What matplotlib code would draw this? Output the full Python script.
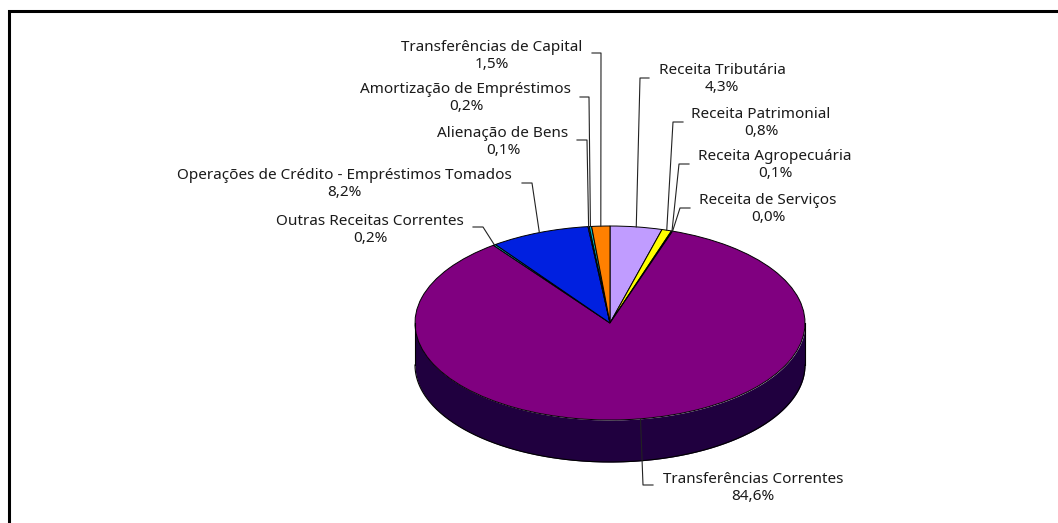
import numpy as np
import matplotlib
matplotlib.use("Agg")
import matplotlib.pyplot as plt

plt.rcParams['font.family'] = ['Noto Sans', 'DejaVu Sans']

# Revenue categories, clockwise from 12 o'clock
categories = ["Receita Tributária", "Receita Patrimonial", "Receita Agropecuária",
              "Receita de Serviços", "Transferências Correntes", "Outras Receitas Correntes",
              "Operações de Crédito - Empréstimos Tomados", "Alienação de Bens",
              "Amortização de Empréstimos", "Transferências de Capital"]
shares = [4.3, 0.8, 0.1, 0.0, 84.6, 0.2, 8.2, 0.1, 0.2, 1.5]
slice_colors = ["#C09CFF", "#FFFF00", "#00CCFF", "#FFFFFF", "#800080",
                "#00CCCC", "#0020E0", "#9999FF", "#00B8C8", "#FF8000"]
wall_color = "#20003F"

W, H = 1058, 523
cx, cy = 610, 323      # pie centre in pixels
rx, ry = 195, 97       # top face radii
depth = 42             # height of the side wall

fig = plt.figure(figsize=(W / 100, H / 100), dpi=100, facecolor="white")

# overlay in pixel coordinates for the frame, labels and leader lines
over = fig.add_axes([0, 0, 1, 1], zorder=3)
over.set_xlim(0, W)
over.set_ylim(H, 0)
over.axis("off")

# pie axes: one data unit is rx wide and ry tall
ax = fig.add_axes([(cx - rx * 1.25) / W, 1 - (cy + ry * 1.25) / H,
                   2.5 * rx / W, 2.5 * ry / H], zorder=2)
d = depth / ry

# side wall below the front half of the ellipse
t = np.linspace(np.pi, 2 * np.pi, 300)
ax.fill_between(np.cos(t), np.sin(t) - d, np.sin(t), color=wall_color, lw=0, clip_on=False)
ax.plot(np.cos(t), np.sin(t) - d, color="black", lw=0.8, clip_on=False)
ax.plot([-1, -1], [0, -d], color="black", lw=0.8)
ax.plot([1, 1], [0, -d], color="black", lw=0.8)

ax.pie(shares, colors=slice_colors, startangle=90, counterclock=False, radius=1,
       wedgeprops=dict(edgecolor="black", linewidth=0.7))
ax.set_aspect("auto")
ax.set_xlim(-1.25, 1.25)
ax.set_ylim(-1.25, 1.25)
ax.axis("off")

# outer frame: only the top and left sides reach the image
over.plot([8.5, 8.5, W + 2], [H + 2, 10.5, 10.5], color="black", lw=2.2,
          solid_joinstyle="miter")

# mid-angle of each slice gives the end of its leader on the rim
edges = np.cumsum([0] + shares) / sum(shares) * 2 * np.pi
mids = (edges[:-1] + edges[1:]) / 2
anchor_x = cx + rx * np.sin(mids)
anchor_y = cy - ry * np.cos(mids)

# label centre, leader height and elbow, in pixels
label_x = [722, 761, 775, 768, 753, 370, 344, 503, 466, 492]
label_y = [79, 123, 165, 209, 488, 230, 184, 142, 98, 56]
leader_y = [78, 122, 164, 208, 485, 227, 183, 140, 97, 53]
elbow_x = [640, 673, 679, 680, 643, 483, 532, 587, 589, 601]
tail_x = [649, 683, 689, 690, 653, 473, 522, 577, 580, 592]

for i, name in enumerate(categories):
    txt = f"{name}\n{shares[i]:.1f}%".replace(".", ",")
    over.text(label_x[i], label_y[i], txt, ha="center", va="center", fontsize=11,
              color="#1a1a1a", linespacing=1.2)
    over.plot([tail_x[i], elbow_x[i], anchor_x[i]], [leader_y[i], leader_y[i], anchor_y[i]],
              color="#222222", lw=0.8)

fig.savefig("out.png", dpi=100, facecolor="white")
